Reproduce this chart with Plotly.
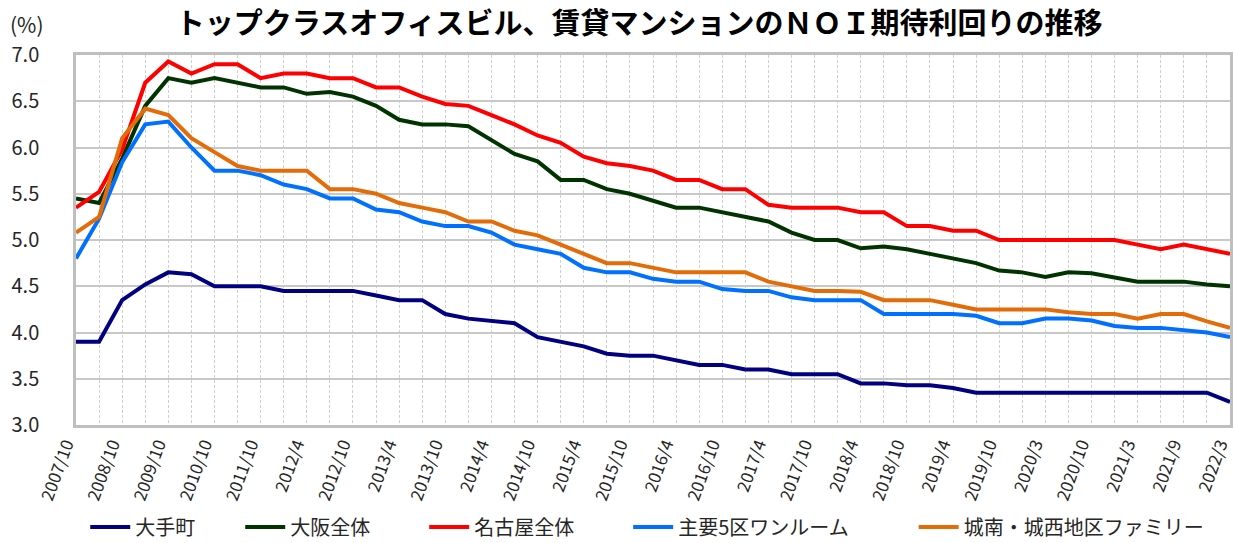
import plotly.graph_objects as go

categories = [
    "2007/10", "2008/4", "2008/10", "2009/4", "2009/10", "2010/4", "2010/10", "2011/4",
    "2011/10", "2012/1", "2012/4", "2012/7", "2012/10", "2013/1", "2013/4", "2013/7",
    "2013/10", "2014/1", "2014/4", "2014/7", "2014/10", "2015/1", "2015/4", "2015/7",
    "2015/10", "2016/1", "2016/4", "2016/7", "2016/10", "2017/1", "2017/4", "2017/7",
    "2017/10", "2018/1", "2018/4", "2018/7", "2018/10", "2019/1", "2019/4", "2019/7",
    "2019/10", "2020/1", "2020/3", "2020/7", "2020/10", "2021/1", "2021/3", "2021/6",
    "2021/9", "2021/12", "2022/3",
]
tick_labels = [c if i % 2 == 0 else "" for i, c in enumerate(categories)]

otemachi = [3.90, 3.90, 4.35, 4.52, 4.65, 4.63, 4.50, 4.50, 4.50, 4.45, 4.45, 4.45, 4.45,
            4.40, 4.35, 4.35, 4.20, 4.15, 4.13, 4.10, 3.95, 3.90, 3.85, 3.77, 3.75, 3.75,
            3.70, 3.65, 3.65, 3.60, 3.60, 3.55, 3.55, 3.55, 3.45, 3.45, 3.43, 3.43, 3.40,
            3.35, 3.35, 3.35, 3.35, 3.35, 3.35, 3.35, 3.35, 3.35, 3.35, 3.35, 3.25]
osaka = [5.45, 5.40, 5.88, 6.45, 6.75, 6.70, 6.75, 6.70, 6.65, 6.65, 6.58, 6.60, 6.55,
         6.45, 6.30, 6.25, 6.25, 6.23, 6.08, 5.93, 5.85, 5.65, 5.65, 5.55, 5.50, 5.43,
         5.35, 5.35, 5.30, 5.25, 5.20, 5.08, 5.00, 5.00, 4.91, 4.93, 4.90, 4.85, 4.80,
         4.75, 4.67, 4.65, 4.60, 4.65, 4.64, 4.60, 4.55, 4.55, 4.55, 4.52, 4.50]
nagoya = [5.35, 5.52, 5.98, 6.70, 6.93, 6.80, 6.90, 6.90, 6.75, 6.80, 6.80, 6.75, 6.75,
          6.65, 6.65, 6.55, 6.47, 6.45, 6.35, 6.25, 6.13, 6.05, 5.90, 5.83, 5.80, 5.75,
          5.65, 5.65, 5.55, 5.55, 5.38, 5.35, 5.35, 5.35, 5.30, 5.30, 5.15, 5.15, 5.10,
          5.10, 5.00, 5.00, 5.00, 5.00, 5.00, 5.00, 4.95, 4.90, 4.95, 4.90, 4.85]
oneroom = [4.80, 5.23, 5.84, 6.25, 6.28, 6.00, 5.75, 5.75, 5.70, 5.60, 5.55, 5.45, 5.45,
           5.33, 5.30, 5.20, 5.15, 5.15, 5.08, 4.95, 4.90, 4.85, 4.70, 4.65, 4.65, 4.58,
           4.55, 4.55, 4.47, 4.45, 4.45, 4.38, 4.35, 4.35, 4.35, 4.20, 4.20, 4.20, 4.20,
           4.18, 4.10, 4.10, 4.15, 4.15, 4.13, 4.07, 4.05, 4.05, 4.03, 4.00, 3.95]
family = [5.08, 5.25, 6.10, 6.42, 6.35, 6.10, 5.95, 5.80, 5.75, 5.75, 5.75, 5.55, 5.55,
          5.50, 5.40, 5.35, 5.30, 5.20, 5.20, 5.10, 5.05, 4.95, 4.85, 4.75, 4.75, 4.70,
          4.65, 4.65, 4.65, 4.65, 4.55, 4.50, 4.45, 4.45, 4.44, 4.35, 4.35, 4.35, 4.30,
          4.25, 4.25, 4.25, 4.25, 4.22, 4.20, 4.20, 4.15, 4.20, 4.20, 4.12, 4.05]

series = [
    ("大手町", otemachi, "#000080"),
    ("大阪全体", osaka, "#003300"),
    ("名古屋全体", nagoya, "#FF0000"),
    ("主要5区ワンルーム", oneroom, "#0070FF"),
    ("城南・城西地区ファミリー", family, "#E36C09"),
]

FONT = "Noto Sans CJK JP"
# trailing blank padding after each legend entry (spacing only)
pads = ["\u3000\u3000", "\u3000\u3000\u00a0\u00a0", "\u3000\u3000\u00a0\u00a0",
        "\u3000\u3000\u3000", ""]

fig = go.Figure()
for (name, vals, color), pad in zip(series, pads):
    fig.add_trace(go.Scatter(x=categories, y=vals, name=name + pad, mode="lines",
                             line=dict(color=color, width=4)))

fig.update_layout(
    width=1234, height=543,
    margin=dict(l=76, r=4, t=55, b=118, autoexpand=False),
    paper_bgcolor="white", plot_bgcolor="white",
    font=dict(family=FONT, color="#262626"),
    title=dict(text="<b>トップクラスオフィスビル、賃貸マンションのＮＯＩ期待利回りの推移</b>",
               x=0.518, xanchor="center", y=0.957, yanchor="middle",
               font=dict(family=FONT, size=29, color="#000000")),
    showlegend=True,
    legend=dict(orientation="h", x=0.008, xanchor="left", y=-0.276, yanchor="middle",
                font=dict(family=FONT, size=20, color="#262626"),
                itemwidth=40, tracegroupgap=0),
    annotations=[dict(text="(%)", xref="paper", yref="paper", x=-0.059, y=1.083,
                      xanchor="left", yanchor="middle", showarrow=False,
                      font=dict(family=FONT, size=21, color="#262626"))],
)
fig.update_xaxes(type="category", tickmode="array", tickvals=categories, ticktext=tick_labels,
                 tickangle=-70, tickfont=dict(family=FONT, size=17, color="#262626"),
                 showgrid=True, gridcolor="#cfcfcf", griddash="3px,2px", gridwidth=1,
                 showline=True, linecolor="#bfbfbf", linewidth=2.5, mirror=True,
                 ticks="", ticklabelshift=-10, automargin=False,
                 range=[0, len(categories) - 1])
fig.update_yaxes(range=[3, 7], dtick=0.5, tickformat=".1f",
                 tickfont=dict(family=FONT, size=20, color="#262626"),
                 showgrid=True, gridcolor="#c8c8c8", gridwidth=1.5,
                 showline=True, linecolor="#bfbfbf", linewidth=2.5, mirror=True,
                 ticks="", ticklabelstandoff=30, zeroline=False, automargin=False)

fig.write_html("out.html", config={"displayModeBar": False},
               post_script="document.body.style.margin='0';document.body.style.overflow='hidden';")
